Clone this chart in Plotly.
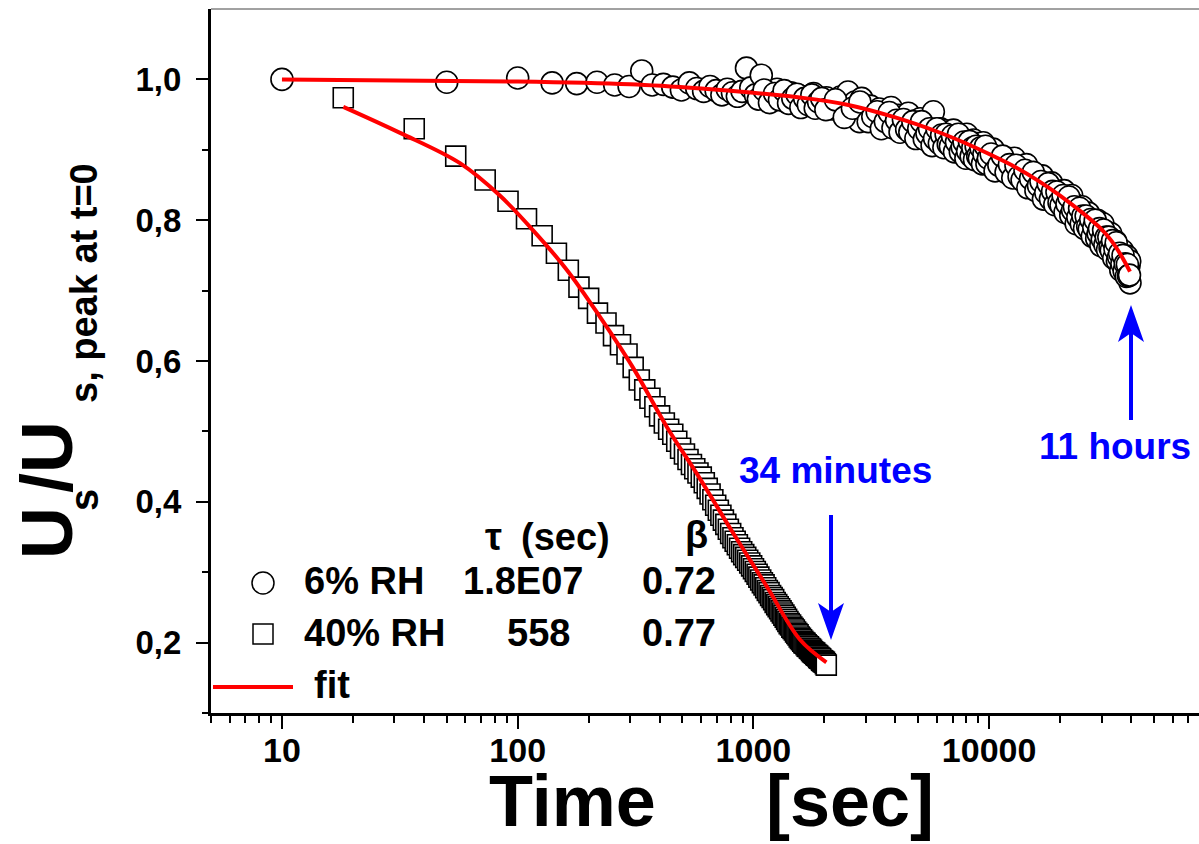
import math
import plotly.graph_objects as go

# ---------------- data ----------------
t_rh6 = [10, 50, 100, 140, 178, 217, 258, 297, 336, 372, 415, 455, 495, 535, 575, 615, 655, 695, 735, 775, 815, 855, 895, 935, 975,
         1020, 1080, 1140, 1200, 1260, 1320, 1380, 1440, 1500, 1560, 1620, 1680, 1740, 1800, 1860, 1920, 1980, 2040, 2100, 2160,
         2220, 2280, 2340, 2400, 2460, 2520, 2580, 2640, 2700, 2760, 2820, 2880, 2940, 3000,
         3140, 3280, 3420, 3560, 3700, 3840, 3980, 4120, 4260, 4400, 4540, 4680, 4820, 4960, 5100, 5240, 5380, 5520, 5660, 5800,
         5940, 6080, 6220, 6360, 6500, 6640, 6780, 6920, 7060, 7200, 7340, 7480, 7620, 7760, 7900, 8040, 8180, 8320, 8460, 8600,
         8740, 8880, 9020, 9160, 9300, 9440, 9580, 9720, 9860, 10000,
         10400, 10800, 11200, 11600, 12000, 12400, 12800, 13200, 13600, 14000, 14400, 14800, 15200, 15600, 16000, 16400, 16800,
         17200, 17600, 18000, 18400, 18800, 19200, 19600, 20000, 20400, 20800, 21200, 21600, 22000, 22400, 22800, 23200, 23600,
         24000, 24400, 24800, 25200, 25600, 26000, 26400, 26800, 27200, 27600, 28000, 28400, 28800, 29200, 29600, 30000, 30400,
         30800, 31200, 31600, 32000, 32400, 32800, 33200, 33600, 34000, 34400, 34800, 35200, 35600, 36000, 36400, 36800, 37200,
         37600, 38000, 38400, 38800, 39200, 39500, 39600]
u_rh6 = [1.000, 0.996, 1.002, 0.995, 0.994, 0.996, 0.992, 0.990, 1.012, 0.992, 0.993, 0.989, 0.985, 0.995, 0.987, 0.983, 0.990,
         0.984, 0.978, 0.986, 0.981, 0.976, 0.983, 1.016, 0.988,
         0.978, 1.006, 0.983, 0.972, 0.986, 0.975, 0.968, 0.981, 0.972, 0.977, 0.963, 0.975, 0.969, 0.980, 0.966, 0.972, 0.960,
         0.974, 0.966, 0.958, 0.970, 0.962, 0.975, 0.957, 0.966, 0.982, 0.960, 0.952, 0.968, 0.961, 0.940, 0.973, 0.956, 0.962,
         0.962, 0.945, 0.958, 0.941, 0.953, 0.960, 0.936, 0.949, 0.931, 0.946, 0.952, 0.928, 0.941, 0.925, 0.944, 0.921, 0.936,
         0.930, 0.916, 0.954, 0.929, 0.912, 0.930, 0.915, 0.927, 0.906, 0.924, 0.911, 0.928, 0.901, 0.919, 0.905, 0.898, 0.917,
         0.902, 0.922, 0.896, 0.912, 0.899, 0.914, 0.893, 0.909, 0.887, 0.906, 0.892, 0.910, 0.886, 0.903, 0.889, 0.900,
         0.901, 0.883, 0.889, 0.870, 0.888, 0.876, 0.888, 0.863, 0.872, 0.861, 0.879, 0.859, 0.867, 0.846, 0.858, 0.846, 0.863,
         0.846, 0.852, 0.830, 0.853, 0.835, 0.841, 0.824, 0.841, 0.830, 0.842, 0.818, 0.826, 0.816, 0.835, 0.815, 0.822, 0.802,
         0.814, 0.802, 0.819, 0.803, 0.809, 0.787, 0.810, 0.792, 0.799, 0.780, 0.799, 0.788, 0.800, 0.776, 0.786, 0.776, 0.795,
         0.775, 0.784, 0.764, 0.776, 0.764, 0.781, 0.765, 0.770, 0.748, 0.770, 0.752, 0.758, 0.738, 0.757, 0.746, 0.757, 0.733,
         0.741, 0.731, 0.749, 0.728, 0.735, 0.742, 0.711]

# additional 6% RH readings lying between the ones above (the record is dense there)
t_rh6_more = [1050, 1110, 1170, 1230, 1290, 1350, 1410, 1470, 1530, 1590, 1650, 1710, 1770, 1830, 1890, 1950,
              2030, 2230, 2430, 2630, 2830, 3070, 3210, 3350, 3490, 3630, 3770, 3910, 4050, 4190, 4330, 4470, 4610, 4750,
              4890, 5030, 5170, 5310, 5450, 5590, 5730, 5870, 6010, 6150, 6290, 6430, 6570, 6710, 6850, 6990, 7130, 7270,
              7410, 7550, 7690, 7830, 7970, 8110, 8250, 8390, 8530, 8670, 8810, 8950, 9090, 9230, 9370, 9510, 9650, 9790, 9930,
              10200, 10600, 11000, 11400, 11800, 12200, 12600, 13000, 13400, 13800, 14200, 14600, 15000, 15400, 15800,
              16200, 16600, 17000, 17400, 17800, 18200, 18600, 19000, 19400, 19800, 20200, 20600, 21000, 21400, 21800,
              22200, 22600, 23000, 23400, 23800, 24200, 24600, 25000, 25400, 25800, 26200, 26600, 27000, 27400, 27800,
              28200, 28600, 29000, 29400, 29800, 30200, 30600, 31000, 31400, 31800, 32200, 32600, 33000, 33400, 33800,
              34200, 34600, 35000, 35400, 35800, 36200, 36600, 37000, 37400, 37800, 38200, 38600, 39000, 39400]
u_rh6_more = [0.972, 0.985, 0.967, 0.980, 0.971, 0.984, 0.966, 0.973, 0.979, 0.960, 0.973, 0.964, 0.978, 0.959, 0.968, 0.973,
              0.957, 0.971, 0.946, 0.959, 0.968, 0.940, 0.947, 0.954, 0.930, 0.940, 0.953, 0.931, 0.942, 0.925, 0.943, 0.929,
              0.925, 0.940, 0.916, 0.930, 0.940, 0.915, 0.923, 0.930, 0.906, 0.916, 0.930, 0.909, 0.921, 0.903, 0.922, 0.908,
              0.905, 0.920, 0.897, 0.911, 0.922, 0.897, 0.904, 0.911, 0.888, 0.898, 0.912, 0.891, 0.903, 0.886, 0.905, 0.891,
              0.888, 0.903, 0.880, 0.894, 0.905, 0.880, 0.888,
              0.894, 0.870, 0.878, 0.891, 0.868, 0.879, 0.860, 0.878, 0.862, 0.857, 0.871, 0.846, 0.859, 0.868, 0.842,
              0.849, 0.855, 0.830, 0.839, 0.852, 0.830, 0.841, 0.822, 0.840, 0.825, 0.821, 0.835, 0.811, 0.823, 0.833,
              0.807, 0.814, 0.819, 0.795, 0.804, 0.817, 0.795, 0.806, 0.788, 0.806, 0.791, 0.787, 0.801, 0.777, 0.790,
              0.800, 0.774, 0.781, 0.788, 0.764, 0.773, 0.786, 0.765, 0.776, 0.758, 0.776, 0.761, 0.757, 0.771, 0.746,
              0.759, 0.768, 0.742, 0.748, 0.753, 0.729, 0.738, 0.750, 0.728, 0.738, 0.720, 0.737, 0.721, 0.722]

t_rh40 = [18.2, 36.4, 54.6, 72.8, 91, 109, 127, 146, 164, 182,
          200, 218, 237, 255, 273, 291, 309, 328, 346, 364,
          382, 400, 419, 437, 455, 473, 491, 510, 528, 546,
          564, 582, 601, 619, 637, 655, 673, 692, 710, 728,
          746, 764, 783, 801, 819, 837, 855, 874, 892, 910,
          928, 946, 965, 983, 1001, 1019, 1037, 1055, 1074, 1092,
          1110, 1128, 1146, 1165, 1183, 1201, 1219, 1237, 1256, 1274,
          1292, 1310, 1328, 1347, 1365, 1383, 1401, 1419, 1438, 1456,
          1474, 1492, 1510, 1529, 1547, 1565, 1583, 1601, 1620, 1638,
          1656, 1674, 1692, 1711, 1729, 1747, 1765, 1783, 1802, 1820,
          1838, 1856, 1874, 1893, 1911, 1929, 1947, 1965, 1984, 2002,
          2020, 2038]
u_rh40 = [0.974, 0.930, 0.891, 0.857, 0.827, 0.802, 0.778, 0.753, 0.729, 0.705,
          0.689, 0.668, 0.654, 0.636, 0.623, 0.610, 0.591, 0.573, 0.559, 0.547,
          0.535, 0.522, 0.512, 0.503, 0.496, 0.486, 0.476, 0.468, 0.460, 0.453,
          0.447, 0.441, 0.435, 0.427, 0.419, 0.411, 0.403, 0.395, 0.388, 0.381,
          0.374, 0.368, 0.361, 0.355, 0.349, 0.344, 0.339, 0.334, 0.329, 0.325,
          0.321, 0.317, 0.313, 0.309, 0.305, 0.301, 0.297, 0.293, 0.289, 0.285,
          0.282, 0.278, 0.274, 0.271, 0.267, 0.264, 0.261, 0.257, 0.254, 0.251,
          0.248, 0.245, 0.242, 0.239, 0.236, 0.233, 0.230, 0.227, 0.225, 0.222,
          0.220, 0.218, 0.215, 0.213, 0.211, 0.208, 0.206, 0.204, 0.202, 0.200,
          0.199, 0.197, 0.195, 0.194, 0.192, 0.191, 0.189, 0.187, 0.186, 0.185,
          0.183, 0.182, 0.181, 0.179, 0.178, 0.177, 0.175, 0.174, 0.173, 0.172,
          0.170, 0.168]

t_fit6 = [10, 100, 300, 600, 1000, 1600, 2500, 4000, 6000, 8000, 10000, 13000, 16000, 20000, 25000, 30000, 33000, 36000, 39600]
u_fit6 = [1.000, 0.997, 0.993, 0.987, 0.981, 0.974, 0.964, 0.946, 0.926, 0.909, 0.894, 0.875, 0.857, 0.835, 0.810, 0.787,
          0.771, 0.752, 0.727]
t_fit40 = [18.2, 31.7, 56.9, 84, 116, 162, 223, 308, 430, 593, 819, 1143, 1578, 2040]
u_fit40 = [0.961, 0.924, 0.881, 0.835, 0.786, 0.729, 0.663, 0.591, 0.506, 0.433, 0.356, 0.279, 0.204, 0.172]

x_ticks = [10, 100, 1000, 10000]
x_ticktext = ["10", "100", "1000", "10000"]
x_minor = [5, 6, 7, 8, 9, 20, 30, 40, 50, 60, 70, 80, 90, 200, 300, 400, 500, 600, 700, 800, 900,
           2000, 3000, 4000, 5000, 6000, 7000, 8000, 9000, 20000, 30000, 40000, 50000, 60000, 70000]
y_ticks = [0.2, 0.4, 0.6, 0.8, 1.0]
y_ticktext = ["0,2", "0,4", "0,6", "0,8", "1,0"]
y_minor = [0.1, 0.3, 0.5, 0.7, 0.9]

legend_rows = [("6% RH", "1.8E07", "0.72"), ("40% RH", "558", "0.77")]

# ---------------- layout geometry (pixels) ----------------
W, H = 1199, 844
L, R, T, B = 211, 0, 9, 131
PW, PH = W - L - R, H - T - B


def px(xp):
    return (xp - L) / PW


def py(yp):
    return (H - B - yp) / PH


FONT = "Liberation Sans, Arial, sans-serif"

fig = go.Figure()
fig.add_trace(go.Scatter(x=t_rh6 + t_rh6_more, y=u_rh6 + u_rh6_more, mode="markers",
                         marker=dict(symbol="circle", size=22, color="white",
                                     line=dict(color="black", width=1.6))))
fig.add_trace(go.Scatter(x=t_rh40, y=u_rh40, mode="markers",
                         marker=dict(symbol="square", size=20, color="white",
                                     line=dict(color="black", width=1.6))))
fig.add_trace(go.Scatter(x=t_fit6, y=u_fit6, mode="lines", line=dict(color="#ff0000", width=4, shape="spline")))
fig.add_trace(go.Scatter(x=t_fit40, y=u_fit40, mode="lines", line=dict(color="#ff0000", width=4, shape="spline")))

shapes = []
# top frame line
shapes.append(dict(type="line", xref="paper", yref="paper", x0=0, x1=1, y0=1, y1=1,
                   line=dict(color="#444", width=1)))
# legend glyphs
shapes.append(dict(type="circle", xref="paper", yref="paper", x0=px(252), x1=px(274), y0=py(594), y1=py(572),
                   line=dict(color="black", width=1.5), fillcolor="white"))
shapes.append(dict(type="rect", xref="paper", yref="paper", x0=px(253), x1=px(273), y0=py(644), y1=py(624),
                   line=dict(color="black", width=1.5), fillcolor="white"))
shapes.append(dict(type="line", xref="paper", yref="paper", x0=px(213), x1=px(293), y0=py(687), y1=py(687),
                   line=dict(color="#ff0000", width=4)))
# blue arrows
BLUE = "#0000ff"
shapes.append(dict(type="line", xref="paper", yref="paper", x0=px(831), x1=px(831), y0=py(515), y1=py(612),
                   line=dict(color=BLUE, width=4)))
shapes.append(dict(type="path", xref="paper", yref="paper",
                   path=f"M {px(831)},{py(640)} L {px(818)},{py(603)} L {px(831)},{py(612)} L {px(844)},{py(603)} Z",
                   fillcolor=BLUE, line=dict(width=0)))
shapes.append(dict(type="line", xref="paper", yref="paper", x0=px(1131), x1=px(1131), y0=py(420), y1=py(333),
                   line=dict(color=BLUE, width=4)))
shapes.append(dict(type="path", xref="paper", yref="paper",
                   path=f"M {px(1131)},{py(305)} L {px(1118)},{py(342)} L {px(1131)},{py(333)} L {px(1144)},{py(342)} Z",
                   fillcolor=BLUE, line=dict(width=0)))

ann = []


def text(x, y, s, size, color="black", xanchor="left", angle=0, family=FONT):
    ann.append(dict(xref="paper", yref="paper", x=x, y=y, text=s, showarrow=False, xanchor=xanchor,
                    yanchor="middle", textangle=angle, font=dict(family=family, size=size, color=color)))


LEG = 38
text(px(483), py(537), "<b>τ</b>", LEG)
text(px(519), py(537), "<b>(sec)</b>", LEG)
text(px(683), py(535), "<b>β</b>", LEG)
for (name, tau, beta), yc, tx in zip(legend_rows, [581, 633], [461, 505]):
    text(px(302), py(yc), f"<b>{name}</b>", LEG)
    text(px(tx), py(yc), f"<b>{tau}</b>", LEG)
    text(px(718), py(yc), f"<b>{beta}</b>", LEG, xanchor="right")
text(px(312), py(685), "<b>fit</b>", LEG)

text(px(835), py(470), "<b>34 minutes</b>", 37, color=BLUE, xanchor="center")
text(px(1193), py(446), "<b>11 hours</b>", 37, color=BLUE, xanchor="right")

# x axis title
text(px(572), py(801), "<b>Time</b>", 72, xanchor="center")
text(px(850), py(801), "<b>[sec]</b>", 72, xanchor="center")

# y axis title, built from its pieces (rotated)
text(px(47), py(533), "<b>U</b>", 72, xanchor="center", angle=-90)
text(px(84), py(500), "<b>s</b>", 40, xanchor="center", angle=-90)
text(px(47), py(457), "<b>/U</b>", 72, xanchor="center", angle=-90)
text(px(84), py(283), "<b>s, peak at t=0</b>", 38, xanchor="center", angle=-90)

fig.update_layout(
    width=W, height=H, margin=dict(l=L, r=R, t=T, b=B, pad=0),
    paper_bgcolor="white", plot_bgcolor="white", showlegend=False,
    shapes=shapes, annotations=ann,
    xaxis=dict(type="log", range=[math.log10(5), math.log10(77700)],
               tickmode="array", tickvals=x_ticks, ticktext=x_ticktext,
               ticks="outside", ticklen=13, tickwidth=2, tickcolor="black",
               showline=True, linewidth=3, linecolor="black", showgrid=False, zeroline=False,
               ticklabelstandoff=-8,
               tickfont=dict(family=FONT, size=34, color="black", weight="bold"),
               minor=dict(tickmode="array", tickvals=x_minor, ticks="outside", ticklen=7, tickwidth=2,
                          tickcolor="black", showgrid=False)),
    yaxis=dict(range=[0.1, 1.1], tickmode="array", tickvals=y_ticks, ticktext=y_ticktext,
               ticks="outside", ticklen=12, tickwidth=2, tickcolor="black",
               showline=True, linewidth=3, linecolor="black", showgrid=False, zeroline=False,
               ticklabelstandoff=8,
               tickfont=dict(family=FONT, size=33, color="black", weight="bold"),
               minor=dict(tickmode="array", tickvals=y_minor, ticks="outside", ticklen=6, tickwidth=2,
                          tickcolor="black", showgrid=False)),
)

fig.write_html("out.html")
